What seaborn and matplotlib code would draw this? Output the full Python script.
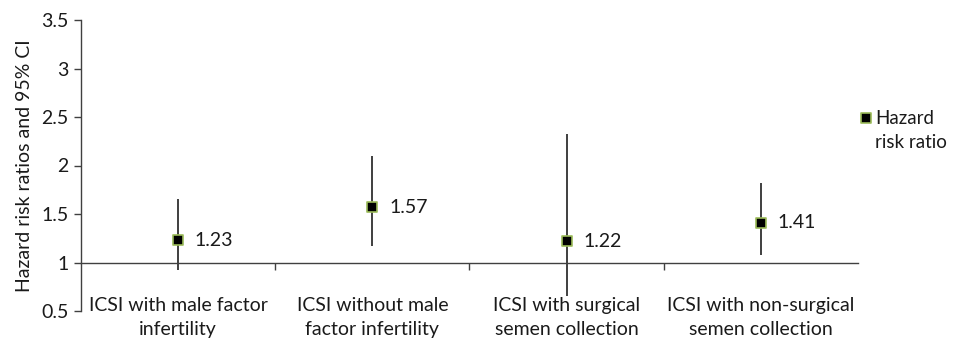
import numpy as np
import pandas as pd
import seaborn as sns
import matplotlib.pyplot as plt
from matplotlib.ticker import FixedLocator

sns.set_style('white')
plt.rcParams['font.family'] = ['Lato', 'DejaVu Sans']

categories = ['ICSI with male factor\ninfertility',
              'ICSI without male\nfactor infertility',
              'ICSI with surgical\nsemen collection',
              'ICSI with non-surgical\nsemen collection']
hazard_ratio = [1.23, 1.57, 1.22, 1.41]
ci_lower = [0.92, 1.17, 0.65, 1.08]
ci_upper = [1.65, 2.10, 2.32, 1.82]

df = pd.DataFrame({'pos': np.arange(len(categories)), 'hr': hazard_ratio,
                   'lo': ci_lower, 'hi': ci_upper})

fs = 14
txt = '#1a1a1a'

fig = plt.figure(figsize=(9.54, 3.47), dpi=100)
ax = fig.add_axes([81 / 954, 36 / 347, 777 / 954, 291 / 347])

# confidence intervals
ax.vlines(df['pos'], df['lo'], df['hi'], color='#303030', linewidth=1.3, zorder=2)

# point estimates
sns.scatterplot(data=df, x='pos', y='hr', marker='s', s=60, color='black',
                edgecolor='#9bbb59', linewidth=1.2, zorder=3, ax=ax,
                label='Hazard\nrisk ratio')

for _, r in df.iterrows():
    ax.annotate(f"{r['hr']:.2f}", (r['pos'], r['hr']), xytext=(12, 0),
                textcoords='offset points', va='center', ha='left', fontsize=fs,
                color=txt)

ax.set_xlim(-0.5, len(categories) - 0.5)
ax.set_ylim(0.5, 3.5)
ax.set_yticks(np.arange(0.5, 3.51, 0.5))
ax.set_yticklabels(['0.5', '1', '1.5', '2', '2.5', '3', '3.5'])

ax.spines['top'].set_visible(False)
ax.spines['right'].set_visible(False)
ax.spines['bottom'].set_position(('data', 1))
for s in ['left', 'bottom']:
    ax.spines[s].set_color('#404040')
    ax.spines[s].set_linewidth(1.0)

ax.set_xticks(df['pos'])
ax.set_xticklabels(categories, fontsize=fs, color=txt, linespacing=1.45)
ax.xaxis.set_minor_locator(FixedLocator(np.arange(0.5, len(categories) - 0.5, 1)))
ax.tick_params(axis='x', which='major', length=0, pad=25)
ax.tick_params(axis='x', which='minor', length=5, direction='out', width=1,
               color='#404040', bottom=True)
ax.tick_params(axis='y', length=5, direction='out', width=1, color='#404040',
               left=True, labelsize=fs, labelcolor=txt, pad=4)

ax.set_xlabel('')
ax.set_ylabel('Hazard risk ratios and 95% CI', fontsize=fs, color=txt, labelpad=6)

leg = ax.legend(loc='upper left', bbox_to_anchor=(0.998, 0.69), frameon=False,
                fontsize=13.5, handletextpad=0.0, handlelength=1.0,
                borderaxespad=0, borderpad=0)
for t in leg.get_texts():
    t.set_color(txt)
    t.set_linespacing(1.45)
# put the marker next to the first line of the label
try:
    for col in leg._legend_handle_box.get_children():
        for item in col.get_children():
            item.align = 'top'
except AttributeError:
    pass

fig.savefig('out.png', dpi=100)
